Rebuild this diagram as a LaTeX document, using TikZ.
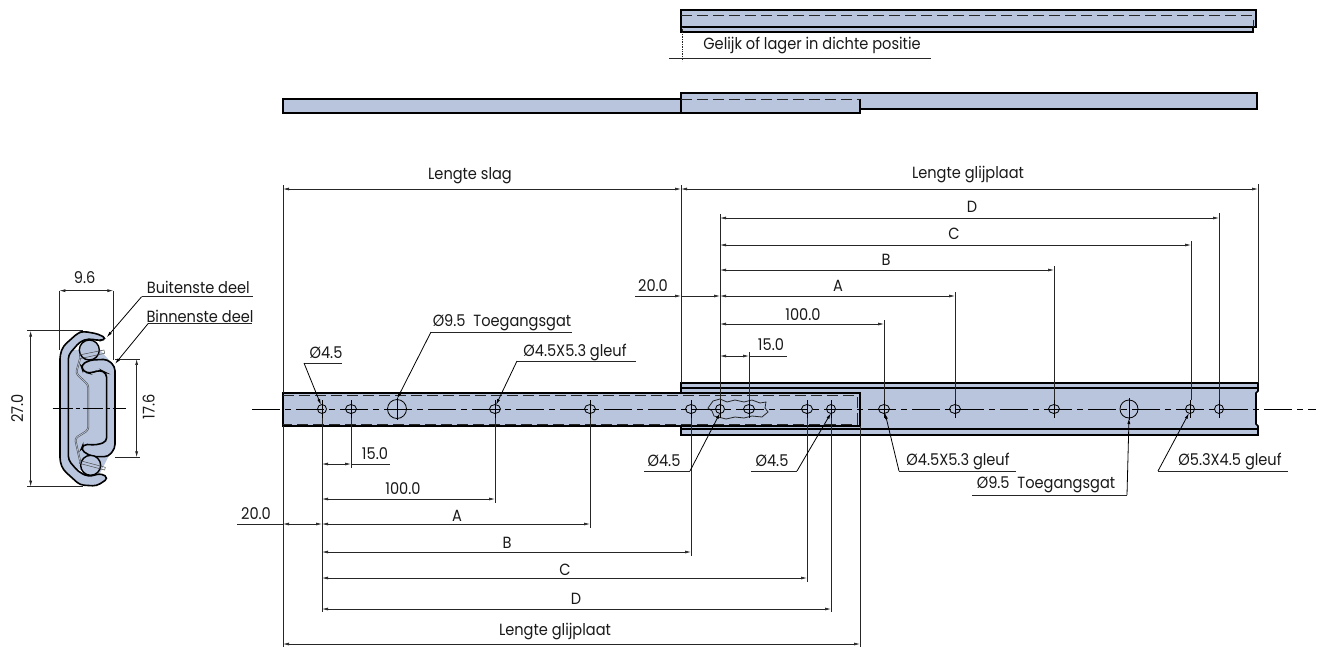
\documentclass[tikz,border=0pt]{standalone}
\usepackage{fontspec}
\setmainfont{Poppins}[FakeStretch=0.9]
\usepackage{tikz}
\usetikzlibrary{arrows.meta}
\definecolor{railblue}{HTML}{B8C5DD}
\tikzset{
  rail/.style={draw=black,fill=railblue,line width=1.6pt},
  hidden/.style={draw=black!85,line width=1pt,dash pattern=on 11pt off 5pt},
  thin line/.style={draw=black!85,line width=0.7pt},
  dimen/.style={thin line,{Latex[length=6pt,width=3pt]}-{Latex[length=6pt,width=3pt]}},
  leader/.style={draw=black,line width=0.8pt,-{Latex[length=6pt,width=3pt]}},
  axis line/.style={draw=black,line width=0.7pt,dash pattern=on 28pt off 5pt on 6pt off 5pt},
  label/.style={inner sep=0pt,font=\fontsize{16.2}{20}\selectfont,text=black!90},
  hole/.style={draw=black,line width=0.8pt}
}
\newcommand{\smallhole}[1]{
  \draw[hole] (#1,409) ellipse (4.5 and 4.5);
  \draw[hole,line width=0.5pt] (#1,400) -- (#1,418);
}
\newcommand{\slothole}[1]{
  \draw[hole] (#1,409) ellipse (5.5 and 4.5);
  \draw[hole,line width=0.5pt] (#1,400) -- (#1,418);
}
\begin{document}
\begin{tikzpicture}[x=1pt,y=-1pt]
  \useasboundingbox (0,0) rectangle (1318,646);

  % top view, closed
  \draw[rail] (681,14) rectangle (1253,32);
  \draw[rail] (681,10) rectangle (1256,27);
  \draw[hidden] (681,15.5) -- (1253,15.5) -- (1253,27);
  \draw[thin line,densely dotted] (682,27) -- (682,61);
  \draw[thin line] (669,58) -- (931,58);
  \node[label] (gelijk) at (812,45) {Gelijk of lager in dichte positie};

  % top view, open
  \fill[railblue] (681,93) rectangle (1257,109);
  \fill[railblue] (283,99) rectangle (860,113);
  \draw[line width=1.6pt] (860,109) -- (1257,109) -- (1257,93) -- (681,93) -- (681,113);
  \draw[line width=1.6pt] (681,99) -- (283,99) -- (283,113) -- (860,113) -- (860,99);
  \draw[hidden] (681,99) -- (860,99);

  % outer rail
  \draw[rail] (681,383) -- (1258,383) -- (1258,391) -- (1256,393) -- (1256,424) -- (1258,426)
    -- (1258,435) -- (681,435) -- cycle;
  \draw[line width=1.2pt] (681,388) -- (1258,388);
  \draw[line width=1.2pt] (681,429) -- (1258,429);

  % inner rail
  \draw[rail] (283,393) rectangle (860,426);
  \draw[hidden] (283,395) -- (857,395) -- (857,424) -- (283,424);

  % cut-out
  \draw[thin line,line width=0.8pt] (708,408) -- (713,401) -- (720,399) -- (727,402) -- (735,400)
    -- (744,402) -- (752,400) -- (760,403) -- (766,402) -- (765,408) -- (768,412) -- (762,417)
    -- (752,416) -- (744,418) -- (735,417) -- (726,419) -- (714,416) -- (712,411) -- cycle;

  % axis
  \draw[axis line] (252,409) -- (1316,409);

  % holes
  \smallhole{322}
  \slothole{351}
  \draw[hole] (397,409) circle (9.5);
  \draw[hole,line width=0.5pt] (397,398) -- (397,420);
  \slothole{495}
  \slothole{590}
  \slothole{691}
  \smallhole{720}
  \slothole{749}
  \slothole{807}
  \smallhole{831}
  \slothole{884}
  \slothole{955}
  \slothole{1054}
  \draw[hole] (1129,409) circle (9);
  \draw[hole,line width=0.5pt] (1129,398) -- (1129,420);
  \smallhole{1190}
  \smallhole{1219}

  % extension lines, above
  \draw[thin line] (283,393) -- (283,185);
  \draw[thin line] (681,383) -- (681,185);
  \draw[thin line] (1258,383) -- (1258,184);
  \draw[thin line] (720,400) -- (720,214);
  \draw[thin line] (749,400) -- (749,352);
  \draw[thin line] (884,400) -- (884,320);
  \draw[thin line] (955,400) -- (955,292);
  \draw[thin line] (1054,400) -- (1054,266);
  \draw[thin line] (1191,400) -- (1191,241);
  \draw[thin line] (1219,400) -- (1219,213);

  % extension lines, below
  \draw[thin line] (283,426) -- (283,647);
  \draw[thin line] (322,418) -- (322,612);
  \draw[thin line] (351,418) -- (351,468);
  \draw[thin line] (495,418) -- (495,503);
  \draw[thin line] (590,418) -- (590,528);
  \draw[thin line] (691,418) -- (691,556);
  \draw[thin line] (807,418) -- (807,582);
  \draw[thin line] (831,418) -- (831,612);
  \draw[thin line] (860,426) -- (860,647);

  % Lengte slag, Lengte glijplaat
  \node[label] (slag) at (470,176) {Lengte slag};
  \draw[dimen] (283,189) -- (681,189);
  \node[label] (plaat top) at (968,175) {Lengte glijplaat};
  \draw[dimen] (681,189) -- (1258,189);

  % D, C, B, A
  \node[label] (D top) at (972,207) {D};
  \draw[dimen] (720,218) -- (1219,218);
  \node[label] (C top) at (954,234) {C};
  \draw[dimen] (720,245) -- (1191,245);
  \node[label] (B top) at (886,260) {B};
  \draw[dimen] (720,270) -- (1054,270);
  \node[label] (A top) at (838,286) {A};
  \draw[dimen] (720,296) -- (955,296);

  % 20.0
  \node[label] (twenty top) at (653,286) {20.0};
  \draw[thin line,-{Latex[length=6pt,width=3pt]}] (635,296) -- (681,296);
  \draw[thin line,{Latex[length=6pt,width=3pt]}-] (720,296) -- (681,296);

  % 100.0, 15.0
  \node[label] (hundred top) at (803,315) {100.0};
  \draw[dimen] (720,324) -- (884,324);
  \node[label] (fifteen top) at (771,345) {15.0};
  \draw[dimen] (720,356) -- (749,356);
  \draw[thin line] (749,356) -- (787,356);

  % below: 15.0, 100.0
  \node[label] (fifteen low) at (375,454) {15.0};
  \draw[dimen] (322,464) -- (351,464);
  \draw[thin line] (351,464) -- (390,464);
  \node[label] (hundred low) at (403,489) {100.0};
  \draw[dimen] (322,499) -- (495,499);

  % below: 20.0, A, B, C, D
  \node[label] (twenty low) at (256,514) {20.0};
  \draw[thin line] (237,524) -- (283,524);
  \draw[dimen] (283,524) -- (322,524);
  \node[label] (A low) at (457,516) {A};
  \draw[dimen] (322,524) -- (590,524);
  \node[label] (B low) at (507,543) {B};
  \draw[dimen] (322,552) -- (691,552);
  \node[label] (C low) at (565,570) {C};
  \draw[dimen] (322,578) -- (807,578);
  \node[label] (D low) at (576,599) {D};
  \draw[dimen] (322,609) -- (831,609);
  \node[label] (plaat low) at (555,632) {Lengte glijplaat};
  \draw[dimen] (283,644) -- (860,644);

  % leaders, above the rail
  \node[label] (hole left) at (326,353) {Ø4.5};
  \draw[thin line] (304,363) -- (342,363);
  \draw[leader] (304,363) -- (321,405);
  \node[label] (access left) at (502,323) {Ø9.5\ \ Toegangsgat};
  \draw[thin line] (431,332) -- (572,332);
  \draw[leader] (431,332) -- (397,399);
  \node[label] (slot left) at (575,352) {Ø4.5X5.3 gleuf};
  \draw[thin line] (517,361) -- (636,361);
  \draw[leader] (517,361) -- (496,405);

  % leaders, below the rail
  \node[label] (hole mid) at (664,461) {Ø4.5};
  \draw[thin line] (644,471) -- (690,471);
  \draw[leader] (690,471) -- (720,413);
  \node[label] (hole right) at (772,461) {Ø4.5};
  \draw[thin line] (751,471) -- (797,471);
  \draw[leader] (797,471) -- (831,413);
  \node[label] (slot mid) at (958,461) {Ø4.5X5.3 gleuf};
  \draw[thin line] (899,471) -- (1016,471);
  \draw[leader] (899,471) -- (885,413);
  \node[label] (access right) at (1046,485) {Ø9.5\ \ Toegangsgat};
  \draw[thin line] (972,495) -- (1127,495);
  \draw[leader] (1127,495) -- (1129,418);
  \node[label] (slot right) at (1230,461) {Ø5.3X4.5 gleuf};
  \draw[thin line] (1158,471) -- (1288,471);
  \draw[leader] (1158,471) -- (1189,413);

  % section
  \begin{scope}[shift={(0,260)},x=0.3333pt,y=-0.3333pt]
    \fill[railblue] (190,270) -- (300,270) -- (345,320) -- (345,565) -- (325,590) -- (300,640) -- (190,620) -- cycle;
    % inner part
    \draw[rail,rounded corners=4pt] (250,335) -- (243,315) -- (270,300) -- (322,298) -- (345,320)
      -- (345,565) -- (325,590) -- (275,590) -- (243,570) -- (250,553) -- (290,555) -- (320,545)
      -- (320,340) -- (300,330) -- (270,340) -- cycle;
    % balls
    \draw[rail,line width=1.4pt] (268,270) circle (30);
    \draw[rail,line width=1.4pt] (272,616) circle (30);
    \draw[black!70,line width=0.5pt] (238,285) -- (312,270) -- (314,280) -- (240,296) -- cycle;
    \draw[black!70,line width=0.5pt] (240,602) -- (316,622) -- (314,630) -- (238,610) -- cycle;
    % web
    \draw[black!70,line width=1.8pt,rounded corners=3pt] (240,296) -- (228,340) -- (265,375) -- (265,510) -- (225,535) -- (240,602);
    \draw[railblue,line width=0.7pt,rounded corners=3pt] (240,296) -- (228,340) -- (265,375) -- (265,510) -- (225,535) -- (240,602);
    % outer part
    \draw[rail,rounded corners=4pt] (320,236) -- (295,222) -- (250,214) -- (235,218) -- (190,258) -- (180,285)
      -- (180,605) -- (190,630) -- (240,675) -- (290,678) -- (325,655) -- (305,640) -- (265,650)
      -- (235,635) -- (205,600) -- (205,285) -- (240,245) -- (265,236) -- (300,242) -- cycle;
    % axis
    \draw[axis line,dash pattern=on 20pt off 3pt on 4pt off 3pt] (158,445) -- (378,445);
    % dimensions
    \draw[thin line] (178,92) -- (178,270);
    \draw[thin line] (340,92) -- (340,300);
    \draw[dimen] (178,92) -- (340,92);
    \node[label] (width) at (254,52) {9.6};
    \draw[thin line] (82,212) -- (250,212);
    \draw[thin line] (82,680) -- (250,680);
    \draw[dimen] (92,212) -- (92,680);
    \node[label,rotate=90] (height outer) at (52,445) {27.0};
    \draw[thin line] (345,297) -- (420,297);
    \draw[thin line] (345,592) -- (420,592);
    \draw[dimen] (410,297) -- (410,592);
    \node[label,rotate=90] (height inner) at (446,440) {17.6};
    % names
    \node[label] (buiten) at (595,83) {Buitenste deel};
    \draw[thin line] (425,110) -- (760,110);
    \draw[leader] (425,110) -- (320,232);
    \node[label] (binnen) at (600,170) {Binnenste deel};
    \draw[thin line] (445,190) -- (756,190);
    \draw[leader] (445,190) -- (345,312);
  \end{scope}
\end{tikzpicture}
\end{document}
